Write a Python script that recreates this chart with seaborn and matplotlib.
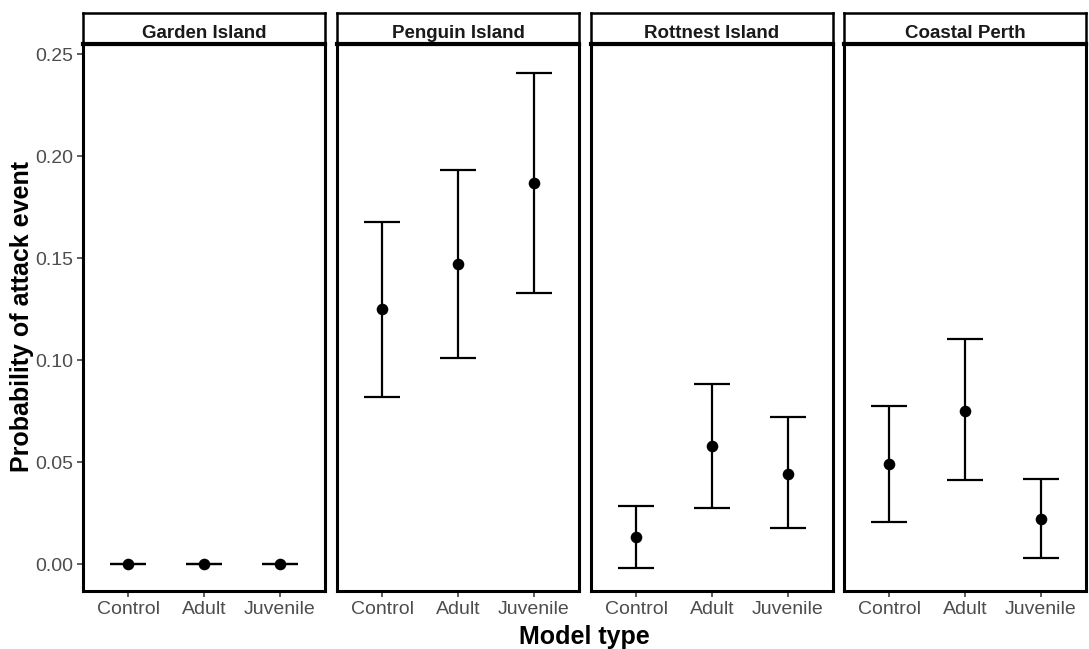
import numpy as np
import pandas as pd
import matplotlib
matplotlib.use("Agg")
import matplotlib.pyplot as plt
import seaborn as sns

sns.set_theme(style="white")
plt.rcParams["font.family"] = ["Liberation Sans", "DejaVu Sans"]

# Estimated attack probabilities with 95% confidence limits
sites = ["Garden Island", "Penguin Island", "Rottnest Island", "Coastal Perth"]
model_types = ["Control", "Adult", "Juvenile"]

garden_est = [0.0, 0.0, 0.0]
garden_lo = [0.0, 0.0, 0.0]
garden_hi = [0.0, 0.0, 0.0]

penguin_est = [0.125, 0.147, 0.187]
penguin_lo = [0.082, 0.101, 0.133]
penguin_hi = [0.168, 0.193, 0.241]

rottnest_est = [0.0134, 0.058, 0.0443]
rottnest_lo = [-0.0018, 0.0275, 0.0178]
rottnest_hi = [0.0286, 0.0886, 0.0721]

coastal_est = [0.049, 0.0752, 0.0222]
coastal_lo = [0.0207, 0.0412, 0.0029]
coastal_hi = [0.0775, 0.1105, 0.0418]

y_ticks = [0.00, 0.05, 0.10, 0.15, 0.20, 0.25]

rows = []
for site, est, lo, hi in zip(
    sites,
    [garden_est, penguin_est, rottnest_est, coastal_est],
    [garden_lo, penguin_lo, rottnest_lo, coastal_lo],
    [garden_hi, penguin_hi, rottnest_hi, coastal_hi],
):
    for m, e, l, h in zip(model_types, est, lo, hi):
        rows.append({"site": site, "model": m, "est": e, "lo": l, "hi": h})
df = pd.DataFrame(rows)
df["site"] = pd.Categorical(df["site"], categories=sites, ordered=True)
df["model"] = pd.Categorical(df["model"], categories=model_types, ordered=True)

W, H = 1089, 649
fig = plt.figure(figsize=(W / 100, H / 100), dpi=100)

panel_x = [(83, 325), (337, 579), (591, 833), (844, 1086)]
panel_top, panel_bottom = 44, 591
strip_top = 13

tick_color = "#4d4d4d"
axes = []
for i, (site, (x0, x1)) in enumerate(zip(sites, panel_x)):
    ax = fig.add_axes([x0 / W, 1 - panel_bottom / H, (x1 - x0) / W,
                       (panel_bottom - panel_top) / H])
    sub = df[df["site"] == site].copy()
    sub["xpos"] = sub["model"].cat.codes.astype(float)
    ax.errorbar(sub["xpos"], sub["est"],
                yerr=[sub["est"] - sub["lo"], sub["hi"] - sub["est"]],
                fmt="none", ecolor="black", elinewidth=1.6,
                capsize=13.3, capthick=1.6, zorder=2)
    sns.scatterplot(data=sub, x="xpos", y="est", ax=ax, color="black",
                    s=70, edgecolor="black", linewidth=0, zorder=3,
                    legend=False)
    ax.set_xlim(-0.6, 2.6)
    ax.set_ylim(-0.0131, 0.255)
    ax.set_xticks(range(len(model_types)))
    ax.set_xticklabels(model_types)
    ax.set_yticks(y_ticks)
    ax.set_yticklabels([f"{t:.2f}" for t in y_ticks])
    ax.tick_params(axis="both", direction="out", length=4, width=1.1,
                   color="#333333", labelsize=14, labelcolor=tick_color,
                   bottom=True, left=(i == 0), pad=3)
    if i != 0:
        ax.tick_params(labelleft=False)
    ax.set_xlabel("")
    ax.set_ylabel("")
    for sp in ax.spines.values():
        sp.set_visible(True)
        sp.set_color("black")
        sp.set_linewidth(2.2)
    ax.grid(False)
    ax.set_facecolor("white")

    sax = fig.add_axes([x0 / W, 1 - panel_top / H, (x1 - x0) / W,
                        (panel_top - strip_top) / H])
    sax.set_xticks([])
    sax.set_yticks([])
    sax.set_facecolor("white")
    for name, sp in sax.spines.items():
        sp.set_visible(True)
        sp.set_color("black")
        sp.set_linewidth(3.0 if name == "bottom" else 1.8)
    sax.text(0.5, 0.34, site, ha="center", va="center", fontsize=13.5,
             fontweight="bold", color="#1a1a1a", transform=sax.transAxes)
    axes.append(ax)

fig.text((83 + 1086) / 2 / W, 1 - 637 / H, "Model type", ha="center",
         va="center", fontsize=18, fontweight="bold", color="black")
fig.text(22 / W, 1 - 317 / H,
         "Probability of attack event", ha="center", va="center",
         rotation=90, fontsize=18, fontweight="bold", color="black")

fig.savefig("out.png", dpi=100, facecolor="white")
